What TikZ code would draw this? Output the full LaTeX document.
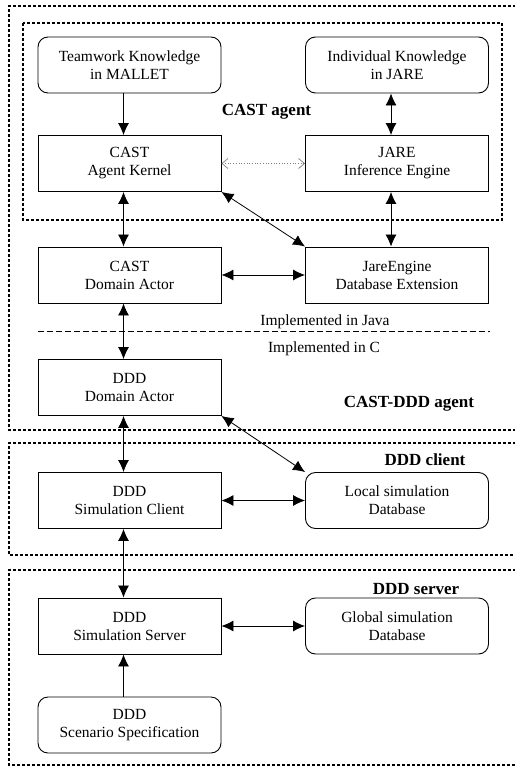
\documentclass[tikz,border=0pt]{standalone}
\usepackage{fontspec}
\setmainfont{Liberation Serif}
\usetikzlibrary{positioning}
\usetikzlibrary{arrows.meta}

\tikzset{
  blk/.style={draw, line width=0.9pt, minimum width=183pt, minimum height=56pt,
    align=center, inner sep=0pt, font=\fontsize{15.5}{18}\selectfont},
  rblk/.style={blk, rounded corners=10pt},
  grp/.style={line width=2.8pt, dash pattern=on 3pt off 2pt},
  lbl/.style={font=\fontsize{17}{20}\selectfont\bfseries},
  note/.style={font=\fontsize{15.5}{18}\selectfont},
}

\begin{document}
\begin{tikzpicture}[x=1pt,y=-1pt,>={Latex[length=12pt,width=11pt]}]
\useasboundingbox (0,0) rectangle (514,767);

% agent and process groups
\draw[grp](516,6)--(9,6)--(9,430)--(516,430);
\draw[grp](23,23) rectangle (502,220);
\draw[grp](516,443)--(9,443)--(9,555)--(516,555);
\draw[grp](516,570)--(9,570)--(9,765)--(516,765);

\node[rblk](tk) at (129.5,65){Teamwork Knowledge\\in MALLET};
\node[rblk](ik) at (397,65){Individual Knowledge\\in JARE};
\node[blk](kernel) at (129.5,163.5){CAST\\Agent Kernel};
\node[blk](jare) at (397,163.5){JARE\\Inference Engine};
\node[blk](cda) at (129.5,275){CAST\\Domain Actor};
\node[blk](jdb) at (397,275){JareEngine\\Database Extension};
\node[blk](dda) at (129.5,387.5){DDD\\Domain Actor};
\node[blk](client) at (129.5,500.5){DDD\\Simulation Client};
\node[rblk](localdb) at (397,500.5){Local simulation\\Database};
\node[blk](server) at (129.5,626){DDD\\Simulation Server};
\node[rblk](globaldb) at (397,626){Global simulation\\Database};
\node[rblk](scen) at (129.5,725){DDD\\Scenario Specification};

\node[lbl](castlbl) at (266.5,112){CAST agent};
\node[lbl](ddlbl) at (409,404){CAST-DDD agent};
\node[lbl](clientlbl) at (425,460){DDD client};
\node[lbl](serverlbl) at (416,589){DDD server};
\node[note](java) at (325,322){Implemented in Java};
\node[note](cimpl) at (324,349){Implemented in C};

\draw[dash pattern=on 6pt off 3pt, line width=0.7pt](38,331)--(490,331);

\path[line width=0.8pt]
([xshift=-6pt]tk.south) edge[->] ([xshift=-6pt]kernel.north)
([xshift=-6pt]ik.south) edge[<->] ([xshift=-6pt]jare.north)
([xshift=-6pt]kernel.south) edge[<->] ([xshift=-6pt]cda.north)
([xshift=-6pt]jare.south) edge[<->] ([xshift=-6pt]jdb.north)
(kernel.south east) edge[<->] (jdb.north west)
(cda.east) edge[<->] (jdb.west)
([xshift=-6pt]cda.south) edge[<->] ([xshift=-6pt]dda.north)
([xshift=-6pt]dda.south) edge[<->] ([xshift=-6pt]client.north)
(dda.south east) edge[<->] (localdb.north west)
(client.east) edge[<->] (localdb.west)
([xshift=-6pt]client.south) edge[<->] ([xshift=-6pt]server.north)
(server.east) edge[<->] (globaldb.west)
([xshift=-6pt]scen.north) edge[->] ([xshift=-6pt]server.south);

\path (kernel.east) edge[gray, dotted, line width=0.7pt,
  {Straight Barb[length=6pt,width=10pt]}-{Straight Barb[length=6pt,width=10pt]}] (jare.west);
\end{tikzpicture}
\end{document}
